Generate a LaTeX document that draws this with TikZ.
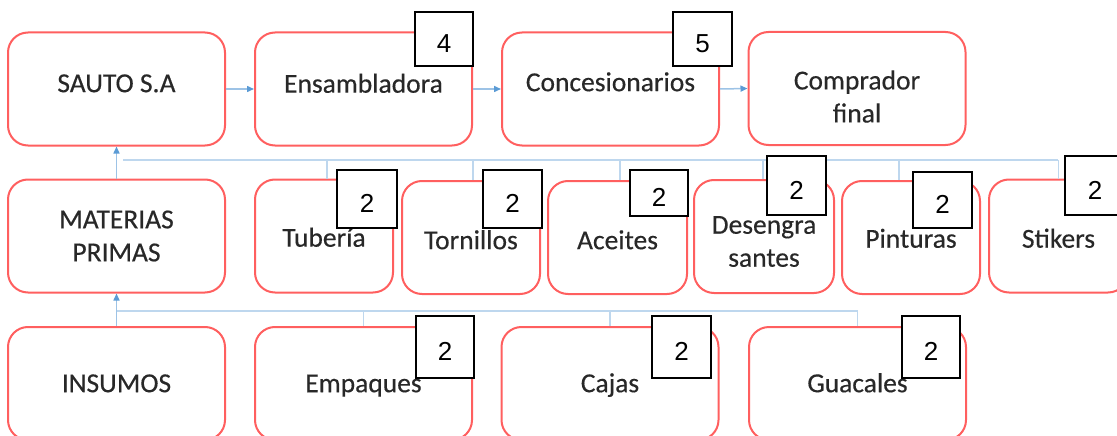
\documentclass[tikz,border=0pt]{standalone}
\usepackage{fontspec}
\newfontfamily\carlito[FakeBold=0.35]{Carlito}
\newfontfamily\arialf{Liberation Sans}
\usetikzlibrary{arrows.meta}
\definecolor{boxred}{RGB}{255,95,95}
\definecolor{txtgray}{RGB}{40,40,40}
\definecolor{linkblue}{RGB}{157,195,230}
\definecolor{headblue}{RGB}{91,155,213}
\definecolor{busblue}{RGB}{190,215,238}
\begin{document}
\begin{tikzpicture}[x=1pt,y=-1pt,
  box/.style={draw=boxred,line width=2pt,rounded corners=20pt,fill=white,minimum height=113pt,inner sep=0pt},
  wide/.style={box,minimum width=217pt},
  narrow/.style={box,minimum width=138pt},
  lbl/.style={font=\carlito\fontsize{27.5}{33}\selectfont,text=txtgray,inner sep=0pt,align=center,minimum width=0pt,minimum height=0pt,draw=none,fill=none},
  one/.style={lbl,text height=23.4pt,text depth=6pt},
  badge/.style={draw=black,line width=2pt,fill=white,inner sep=0pt,font=\arialf\fontsize{26}{26}\selectfont,text height=27pt,text depth=0pt},
  link/.style={draw=linkblue,line width=1.5pt,-{Triangle[length=7pt,width=6pt,color=headblue]}},
  busline/.style={draw=busblue,line width=1.5pt}]
\useasboundingbox (0,0) rectangle (1117,436);
\begin{scope}
\clip (0,0) rectangle (1117,436);
% top row
\node[wide,label={[one,yshift=5.5pt]center:SAUTO S.A}] (sauto) at (116.5,89) {};
\node[wide,label={[one,yshift=5pt]center:Ensambladora}] (ens) at (363.5,89) {};
\node[wide,label={[one,yshift=6.5pt]center:Concesionarios}] (conc) at (610.5,89) {};
\node[wide,label={[lbl,yshift=-8pt]center:Comprador\\final}] (comp) at (857,88.5) {};
% middle row
\node[wide,label={[lbl]center:MATERIAS\\PRIMAS}] (mp) at (116.5,236) {};
\node[narrow,label={[one,yshift=-2pt]center:Tubería}] (tub) at (324,236) {};
\node[narrow,label={[one,yshift=-3pt]center:Tornillos}] (tor) at (471,237.5) {};
\node[narrow,minimum width=139pt,label={[one,yshift=-3pt]center:Aceites}] (ace) at (617.5,237.5) {};
\node[narrow,minimum width=140pt,label={[lbl,yshift=-5pt]center:Desengra\\santes}] (des) at (764,236.5) {};
\node[narrow,label={[one,yshift=-1.5pt]center:Pinturas}] (pin) at (911,237.5) {};
\node[narrow,minimum width=139pt,label={[one,yshift=-3pt]center:Stikers}] (sti) at (1058.5,236) {};
% bottom row
\node[wide,label={[one]center:INSUMOS}] (ins) at (116.5,383.5) {};
\node[wide,label={[one]center:Empaques}] (emp) at (363.5,383.5) {};
\node[wide,label={[one]center:Cajas}] (caj) at (610,383.5) {};
\node[wide,label={[one]center:Guacales}] (gua) at (857.5,383.5) {};
% connectors
\draw[link] (sauto.east) -- (ens.west);
\draw[link] (ens.east) -- (conc.west);
\draw[link] (conc.east) -- (comp.west);
\draw[link] (mp.north) -- (sauto.south);
\draw[link] (ins.north) -- (mp.south);
% top bus
\coordinate (tb0) at (123,160);
\coordinate (tb1) at (1058,160);
\draw[busline] (tb0) -- (tb1);
\draw[busline] ([xshift=3pt]tub.north) -- ([xshift=3pt]tub.north |- tb0);
\draw[busline] ([xshift=2pt]tor.north) -- ([xshift=2pt]tor.north |- tb0);
\draw[busline] ([xshift=2.5pt]ace.north) -- ([xshift=2.5pt]ace.north |- tb0);
\draw[busline] ([xshift=-1pt]des.north) -- ([xshift=-1pt]des.north |- tb0);
\draw[busline] ([xshift=-12pt]pin.north) -- ([xshift=-12pt]pin.north |- tb0);
\draw[busline] (sti.north) -- (sti.north |- tb0);
% bottom bus
\coordinate (bb0) at (116.5,311);
\draw[busline] (bb0) -- (gua.north |- bb0);
\draw[busline] (emp.north) -- (emp.north |- bb0);
\draw[busline] (caj.north) -- (caj.north |- bb0);
\draw[busline] (gua.north) -- (gua.north |- bb0);
% badges
\node[badge,minimum width=58pt,minimum height=54pt] (b4) at (444,39) {4};
\node[badge,minimum width=59pt,minimum height=54pt] (b5) at (702.5,39) {5};
\node[badge,minimum width=60pt,minimum height=58pt] (bt1) at (367,199) {2};
\node[badge,minimum width=59pt,minimum height=58pt] (bt2) at (512.5,199) {2};
\node[badge,minimum width=58pt,minimum height=46pt] (bt3) at (659,193) {2};
\node[badge,minimum width=59pt,minimum height=59pt] (bt4) at (796.5,185.5) {2};
\node[badge,minimum width=59pt,minimum height=56pt] (bt5) at (942.5,200) {2};
\node[badge,minimum width=60pt,minimum height=59pt] (bt6) at (1095,185.5) {2};
\node[badge,minimum width=58pt,minimum height=62pt] (bb1) at (445,347) {2};
\node[badge,minimum width=59pt,minimum height=62pt] (bb2) at (681.5,347) {2};
\node[badge,minimum width=58pt,minimum height=62pt] (bb3) at (931,347) {2};
\end{scope}
\end{tikzpicture}
\end{document}
